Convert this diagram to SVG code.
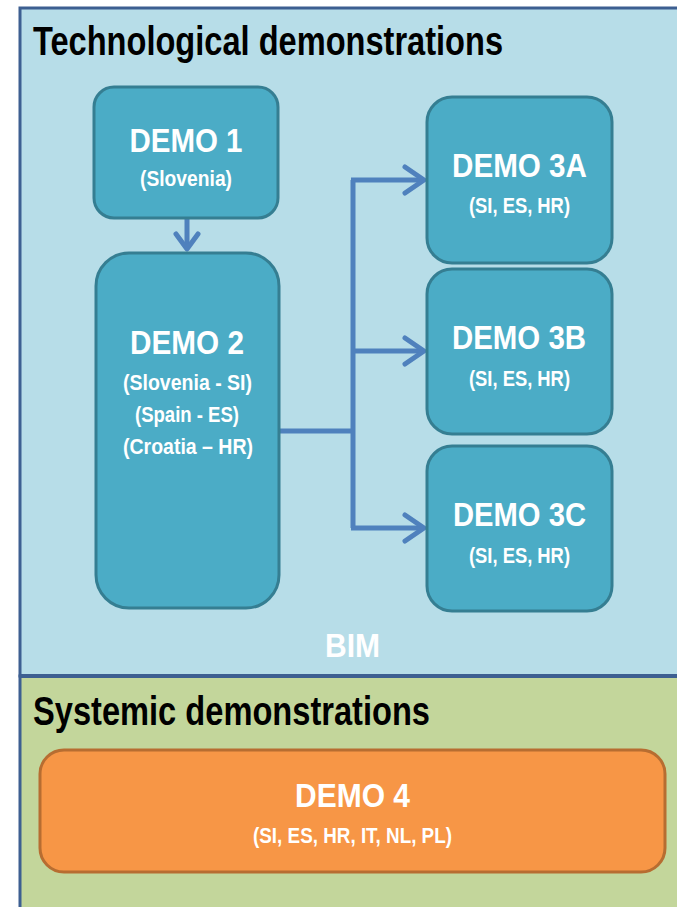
<svg xmlns="http://www.w3.org/2000/svg" width="677" height="907" viewBox="0 0 677 907">
<style>
.panel{stroke:#3D5F91;stroke-width:3}
.node rect.b{fill:#4BACC6;stroke:#357E92;stroke-width:3}
.node rect.o{fill:#F79646;stroke:#B76D31;stroke-width:3}
.title{font-family:"Liberation Sans",Arial,sans-serif;font-weight:bold;fill:#000;font-size:40px}
.lbl{font-family:"Liberation Sans",Arial,sans-serif;font-weight:bold;fill:#fff;font-size:34px;text-anchor:middle}
.sub{font-family:"Liberation Sans",Arial,sans-serif;font-weight:bold;fill:#fff;font-size:22px;text-anchor:middle}
.conn{fill:none;stroke:#4F81BD;stroke-width:5}
</style>
<defs>
<marker id="chev" markerUnits="userSpaceOnUse" markerWidth="30" markerHeight="32" viewBox="-24 -16 30 32" refX="0" refY="0" orient="auto" overflow="visible">
<path d="M-19,-13 L0,0 L-19,13" fill="none" stroke="#4F81BD" stroke-width="5" stroke-linecap="round" stroke-linejoin="round"/>
</marker>
<marker id="chevS" markerUnits="userSpaceOnUse" markerWidth="30" markerHeight="32" viewBox="-24 -16 30 32" refX="0" refY="0" orient="auto" overflow="visible">
<path d="M-15,-11 L0,0 L-15,11" fill="none" stroke="#4F81BD" stroke-width="5" stroke-linecap="round" stroke-linejoin="round"/>
</marker>
</defs>
<rect width="677" height="907" fill="#FFFFFF"/>
<g id="panel-tech">
<rect class="panel" x="20" y="8" width="680" height="668" fill="#B7DDE8"/>
<text class="title" x="33" y="55" textLength="470" lengthAdjust="spacingAndGlyphs">Technological demonstrations</text>
<text x="352.5" y="657" font-family="Liberation Sans,Arial,sans-serif" font-weight="bold" font-size="34" fill="#FFFFFF" text-anchor="middle" textLength="55" lengthAdjust="spacingAndGlyphs">BIM</text>
</g>
<g id="panel-sys">
<rect class="panel" x="20" y="676" width="680" height="260" fill="#C3D69B"/>
<line x1="20" y1="676" x2="677" y2="676" stroke="#3D5F91" stroke-width="4"/>
<text class="title" x="33" y="725" textLength="397" lengthAdjust="spacingAndGlyphs">Systemic demonstrations</text>
</g>
<g id="connectors">
<line class="conn" x1="187" y1="219" x2="187" y2="249" marker-end="url(#chevS)"/>
<path class="conn" d="M279,431 H353 M353,180 V528"/>
<line class="conn" x1="351" y1="180" x2="424" y2="180" marker-end="url(#chev)"/>
<line class="conn" x1="353" y1="351" x2="424" y2="351" marker-end="url(#chev)"/>
<line class="conn" x1="351" y1="528" x2="424" y2="528" marker-end="url(#chev)"/>
</g>
<g id="demo1" class="node">
<rect class="b" x="94" y="87" width="184" height="131" rx="20"/>
<text class="lbl" x="186" y="152" textLength="113" lengthAdjust="spacingAndGlyphs">DEMO 1</text>
<text class="sub" x="186" y="186" textLength="92" lengthAdjust="spacingAndGlyphs">(Slovenia)</text>
</g>
<g id="demo2" class="node">
<rect class="b" x="96" y="253" width="183" height="355" rx="33"/>
<text class="lbl" x="187" y="354" textLength="114" lengthAdjust="spacingAndGlyphs">DEMO 2</text>
<text class="sub" x="187.5" y="390" textLength="129" lengthAdjust="spacingAndGlyphs">(Slovenia - SI)</text>
<text class="sub" x="187" y="422" textLength="104" lengthAdjust="spacingAndGlyphs">(Spain - ES)</text>
<text class="sub" x="188" y="454" textLength="130" lengthAdjust="spacingAndGlyphs">(Croatia – HR)</text>
</g>
<g id="demo3a" class="node">
<rect class="b" x="427" y="97" width="185" height="166" rx="25"/>
<text class="lbl" x="519.5" y="177" textLength="135" lengthAdjust="spacingAndGlyphs">DEMO 3A</text>
<text class="sub" x="519.5" y="213" textLength="101" lengthAdjust="spacingAndGlyphs">(SI, ES, HR)</text>
</g>
<g id="demo3b" class="node">
<rect class="b" x="427" y="269" width="185" height="165" rx="25"/>
<text class="lbl" x="519" y="349" textLength="134" lengthAdjust="spacingAndGlyphs">DEMO 3B</text>
<text class="sub" x="519.5" y="386" textLength="101" lengthAdjust="spacingAndGlyphs">(SI, ES, HR)</text>
</g>
<g id="demo3c" class="node">
<rect class="b" x="427" y="446" width="185" height="165" rx="25"/>
<text class="lbl" x="519.5" y="526" textLength="133" lengthAdjust="spacingAndGlyphs">DEMO 3C</text>
<text class="sub" x="519.5" y="563" textLength="101" lengthAdjust="spacingAndGlyphs">(SI, ES, HR)</text>
</g>
<g id="demo4" class="node">
<rect class="o" x="40" y="750" width="625" height="122" rx="24"/>
<text class="lbl" x="352.5" y="807" textLength="115" lengthAdjust="spacingAndGlyphs">DEMO 4</text>
<text class="sub" x="352.5" y="843" textLength="199" lengthAdjust="spacingAndGlyphs">(SI, ES, HR, IT, NL, PL)</text>
</g>
</svg>
